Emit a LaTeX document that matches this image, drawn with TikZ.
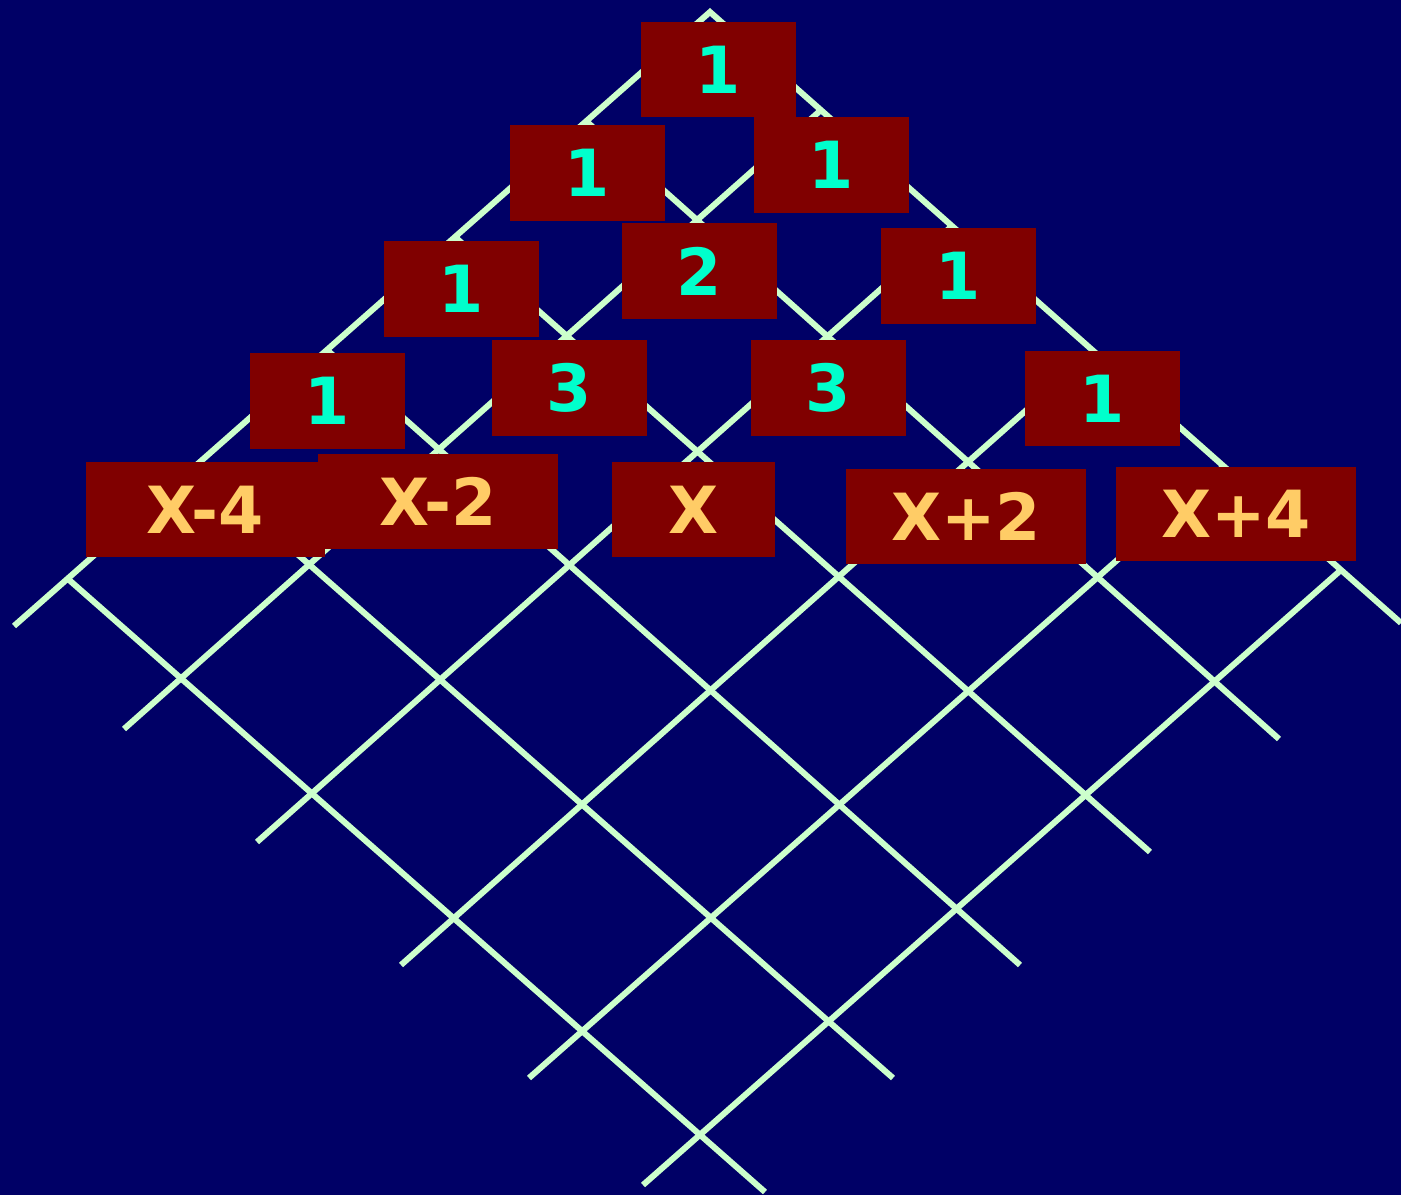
\documentclass[tikz,border=0pt]{standalone}
\usepackage{fontspec}
\setmainfont{DejaVu Sans}
\usepackage{xcolor}
\usepackage{tikz}
\usetikzlibrary{positioning}
\definecolor{slidebg}{HTML}{000066}
\definecolor{gridgreen}{HTML}{CCFFCC}
\definecolor{boxred}{HTML}{800000}
\definecolor{numcyan}{HTML}{00FFCC}
\definecolor{lblgold}{HTML}{FFCC66}

\begin{document}
\begin{tikzpicture}[
  x=0.02cm, y=-0.02cm,
  lattice/.style={draw=gridgreen, line width=0.12cm},
  numbox/.style={fill=boxred, minimum width=3.1cm, minimum height=1.92cm, inner sep=0pt, text=numcyan, font=\fontsize{37}{38}\selectfont\bfseries},
  lblbox/.style={numbox, minimum width=4.8cm, minimum height=1.9cm, text=lblgold},
]
\useasboundingbox (0,0) rectangle (1401,1195);
\fill[slidebg] (0,0) rectangle (1401,1195);

\draw[lattice] (14,626) -- (710,12) -- (1401,623);
\foreach \sx/\sy/\ex/\ey in {586/121/1279/739, 455/237/1150/852, 327/350/1020/965, 196/465/893/1078, 68/579/765/1192}
  \draw[lattice] (\sx,\sy) -- (\ex,\ey);
\foreach \sx/\sy/\ex/\ey in {821/110/124/729, 952/226/257/842, 1093/351/401/965, 1224/466/529/1078, 1341/570/643/1185}
  \draw[lattice] (\sx,\sy) -- (\ex,\ey);

\node[numbox] (r0a) at (718.5,69.5) {1};
\node[numbox] (r1a) at (587.5,173) {1};
\node[numbox] (r1b) at (831.5,165) {1};
\node[numbox] (r2a) at (461.5,289) {1};
\node[numbox] (r2b) at (699.5,271) {2};
\node[numbox] (r2c) at (958.5,276) {1};
\node[numbox] (r3a) at (327.5,401) {1};
\node[numbox] (r3b) at (569.5,388) {3};
\node[numbox] (r3c) at (828.5,388) {3};
\node[numbox] (r3d) at (1102.5,398.5) {1};

\node[lblbox] (xm4) at (205.5,509.5) {X-4};
\node[lblbox] (xm2) at (438,501.5) {X-2};
\node[lblbox, minimum width=3.26cm] (x0) at (693.5,509.5) {X};
\node[lblbox] (xp2) at (966,516.5) {X+2};
\node[lblbox] (xp4) at (1236,514) {X+4};
\end{tikzpicture}
\end{document}
